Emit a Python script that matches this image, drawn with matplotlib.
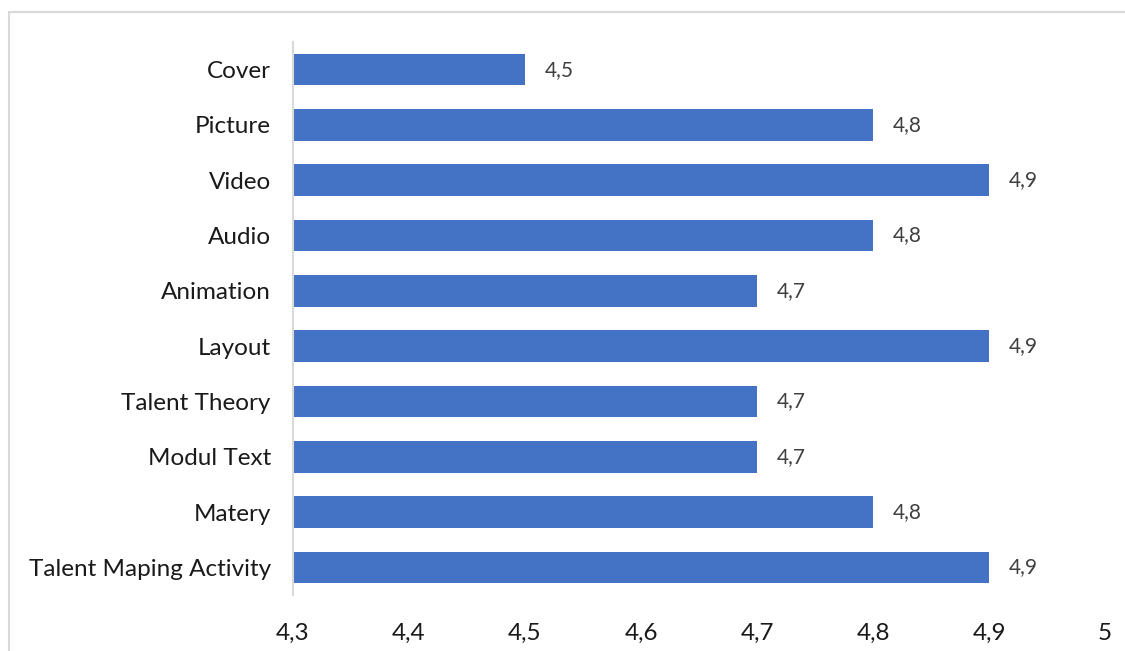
import matplotlib.pyplot as plt
from matplotlib.patches import Rectangle

categories = ["Cover", "Picture", "Video", "Audio", "Animation", "Layout",
              "Talent Theory", "Modul Text", "Matery", "Talent Maping Activity"]
values = [4.5, 4.8, 4.9, 4.8, 4.7, 4.9, 4.7, 4.7, 4.8, 4.9]
xticks = [4.3, 4.4, 4.5, 4.6, 4.7, 4.8, 4.9, 5.0]

plt.rcParams['font.family'] = ['Lato', 'DejaVu Sans']

W, H = 1125, 651
fig = plt.figure(figsize=(W / 100, H / 100), dpi=100)
ax = fig.add_axes([293 / W, 1 - 595 / H, (1105 - 293) / W, (595 - 42) / H])

# chart border (cut off at the right and bottom like the screenshot)
fig.patches.append(Rectangle((9 / W, -0.1), 1.2, 1 - 12 / H + 0.1, transform=fig.transFigure,
                             fill=False, edgecolor='#D9D9D9', linewidth=1.5))

y = list(range(len(categories)))
ax.barh(y, [v - 4.3 for v in values], left=4.3, height=0.57, color='#4472C4')
for yi, v in zip(y, values):
    ax.text(v + 0.017, yi, f"{v:.1f}".replace('.', ','), va='center', ha='left',
            fontsize=15, color='#404040')

ax.set_xlim(4.3, 5.0)
ax.set_ylim(len(categories) - 0.5, -0.5)
ax.set_yticks(y)
ax.set_yticklabels(categories, fontsize=17.5, color='#1a1a1a')
ax.set_xticks(xticks)
ax.set_xticklabels([f"{t:g}".replace('.', ',') for t in xticks], fontsize=17.5, color='#1a1a1a')
ax.tick_params(length=0)
ax.tick_params(axis='y', pad=16)
ax.tick_params(axis='x', pad=20)
for s in ['top', 'right', 'bottom']:
    ax.spines[s].set_visible(False)
ax.spines['left'].set_color('#D9D9D9')
ax.spines['left'].set_linewidth(1.5)

fig.savefig("out.png", dpi=100)
